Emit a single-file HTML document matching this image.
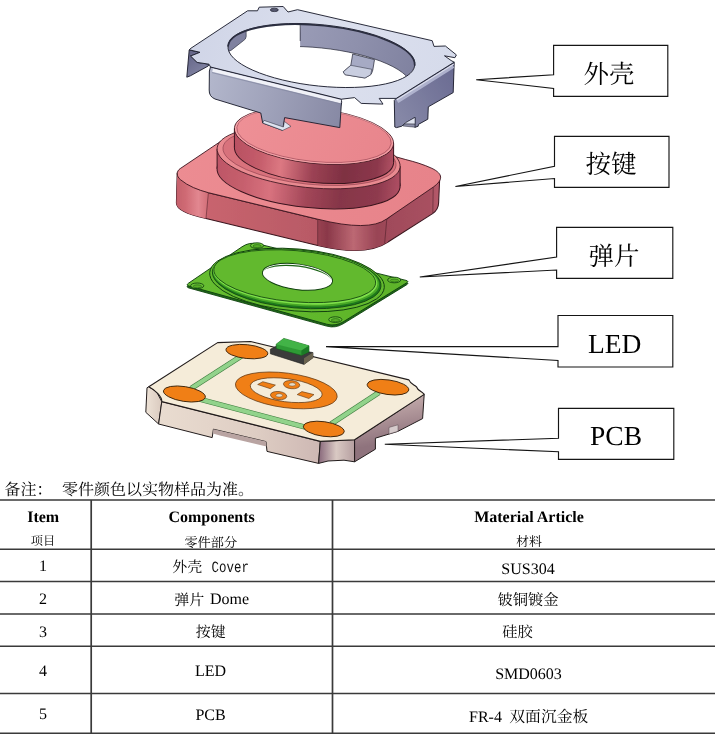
<!DOCTYPE html>
<html lang="zh">
<head>
<meta charset="utf-8">
<title>Exploded view</title>
<style>
html,body{margin:0;padding:0;background:#fff;}
body{width:715px;height:740px;overflow:hidden;font-family:"Liberation Serif",serif;}
svg{display:block;position:absolute;left:0;top:0;}
.ser{font-family:"Liberation Serif",serif;}
.cjk{font-family:"Liberation Serif","Noto Serif CJK SC",serif;}
.mono{font-family:"Liberation Mono",monospace;}
text{text-rendering:geometricPrecision;}
</style>
</head>
<body>
<svg width="715" height="740" viewBox="0 0 715 740">
<defs>

<filter id="soft" x="-5%" y="-5%" width="110%" height="110%"><feGaussianBlur stdDeviation="0.45"/></filter>
<linearGradient id="pcbFront" x1="160" y1="0" x2="322" y2="0" gradientUnits="userSpaceOnUse">
 <stop offset="0" stop-color="#e9dcd0"/><stop offset="0.6" stop-color="#decdc3"/><stop offset="1" stop-color="#cdb7b3"/>
</linearGradient>
<linearGradient id="pcbRight" x1="390" y1="400" x2="398" y2="440" gradientUnits="userSpaceOnUse">
 <stop offset="0" stop-color="#c3abab"/><stop offset="1" stop-color="#8f737d"/>
</linearGradient>
<linearGradient id="pcbCham" x1="320" y1="0" x2="356" y2="0" gradientUnits="userSpaceOnUse">
 <stop offset="0" stop-color="#8e6f80"/><stop offset="0.45" stop-color="#d9c9c3"/><stop offset="1" stop-color="#b39c9e"/>
</linearGradient>
<linearGradient id="pcbLeft" x1="145" y1="0" x2="163" y2="0" gradientUnits="userSpaceOnUse">
 <stop offset="0" stop-color="#efe4d8"/><stop offset="1" stop-color="#d8c8bd"/>
</linearGradient>

<linearGradient id="domeTop" x1="200" y1="250" x2="400" y2="310" gradientUnits="userSpaceOnUse">
 <stop offset="0" stop-color="#66bd30"/><stop offset="0.5" stop-color="#62b92d"/><stop offset="1" stop-color="#5db32a"/>
</linearGradient>

<linearGradient id="btnSide" x1="178" y1="0" x2="440" y2="0" gradientUnits="userSpaceOnUse">
 <stop offset="0" stop-color="#cf6a74"/><stop offset="0.12" stop-color="#c8646e"/><stop offset="0.5" stop-color="#b95a66"/>
 <stop offset="0.8" stop-color="#a04a5a"/><stop offset="0.96" stop-color="#a85060"/><stop offset="1" stop-color="#b85c6c"/>
</linearGradient>
<linearGradient id="btnCorner" x1="317" y1="0" x2="390" y2="0" gradientUnits="userSpaceOnUse">
 <stop offset="0" stop-color="#9a4352"/><stop offset="0.14" stop-color="#8a3849"/><stop offset="0.5" stop-color="#bc6873"/><stop offset="0.82" stop-color="#994455"/><stop offset="1" stop-color="#a04a5a"/>
</linearGradient>
<linearGradient id="btnLeft" x1="176" y1="0" x2="208" y2="0" gradientUnits="userSpaceOnUse">
 <stop offset="0" stop-color="#c4606b"/><stop offset="0.3" stop-color="#cf6a74"/><stop offset="0.7" stop-color="#e28790"/><stop offset="1" stop-color="#d26e78"/>
</linearGradient>
<linearGradient id="btnTop" x1="180" y1="150" x2="420" y2="230" gradientUnits="userSpaceOnUse">
 <stop offset="0" stop-color="#ec8c92"/><stop offset="1" stop-color="#e7838a"/>
</linearGradient>
<linearGradient id="btnTop2" x1="240" y1="110" x2="390" y2="165" gradientUnits="userSpaceOnUse">
 <stop offset="0" stop-color="#ee9096"/><stop offset="1" stop-color="#e8858c"/>
</linearGradient>
<linearGradient id="ringSide" x1="216" y1="0" x2="401" y2="0" gradientUnits="userSpaceOnUse">
 <stop offset="0" stop-color="#bd5666"/><stop offset="0.15" stop-color="#c65f6d"/><stop offset="0.3" stop-color="#d8727e"/>
 <stop offset="0.5" stop-color="#a24658"/><stop offset="0.68" stop-color="#863648"/><stop offset="0.88" stop-color="#8e3a4e"/><stop offset="1" stop-color="#b05064"/>
</linearGradient>
<linearGradient id="cylSide" x1="234" y1="0" x2="394" y2="0" gradientUnits="userSpaceOnUse">
 <stop offset="0" stop-color="#b85062"/><stop offset="0.16" stop-color="#c45c6a"/><stop offset="0.3" stop-color="#dc7882"/>
 <stop offset="0.5" stop-color="#9c4254"/><stop offset="0.7" stop-color="#7e3042"/><stop offset="0.9" stop-color="#8c384c"/><stop offset="1" stop-color="#b25264"/>
</linearGradient>


<clipPath id="cvOpenClip"><path d="M228.1 45.9 A93.8 30.3 5.9 1 0 414.7 65.1 A93.8 30.3 5.9 1 0 228.1 45.9 Z"/></clipPath>
<clipPath id="cvBandClip"><rect x="300" y="0" width="140" height="110"/></clipPath>
<linearGradient id="cvTop" x1="200" y1="20" x2="440" y2="90" gradientUnits="userSpaceOnUse">
 <stop offset="0" stop-color="#d0d5e7"/><stop offset="0.5" stop-color="#dce0ee"/><stop offset="1" stop-color="#d6dbeb"/>
</linearGradient>
<linearGradient id="cvFront" x1="210" y1="80" x2="340" y2="112" gradientUnits="userSpaceOnUse">
 <stop offset="0" stop-color="#b2b6cb"/><stop offset="0.45" stop-color="#a0a3bb"/><stop offset="1" stop-color="#888aa5"/>
</linearGradient>
<linearGradient id="cvRight" x1="396" y1="110" x2="454" y2="75" gradientUnits="userSpaceOnUse">
 <stop offset="0" stop-color="#8587a6"/><stop offset="1" stop-color="#6b6c93"/>
</linearGradient>
<linearGradient id="cvLeft" x1="187" y1="50" x2="205" y2="72" gradientUnits="userSpaceOnUse">
 <stop offset="0" stop-color="#5f6083"/><stop offset="1" stop-color="#8284a3"/>
</linearGradient>
<linearGradient id="cvInner" x1="300" y1="30" x2="416" y2="62" gradientUnits="userSpaceOnUse">
 <stop offset="0" stop-color="#999bb6"/><stop offset="0.5" stop-color="#8e90ac"/><stop offset="1" stop-color="#8082a0"/>
</linearGradient>

<!--DEFS-->
</defs>
<rect x="0" y="0" width="715" height="740" fill="#ffffff"/>

<!-- ================= ILLUSTRATION ================= -->
<g id="illu" filter="url(#soft)">
<g id="pcb" stroke-linejoin="round">
 <!-- left corner wall -->
 <path d="M147 387.8 L148.8 386.8 L156.4 391.5 L161.8 401.6 L158.6 424 L145.8 412.3 Z" fill="url(#pcbLeft)" stroke="#221c1c" stroke-width="1"/>
 <!-- front face with bottom notch -->
 <path d="M161.8 401.6 L320.3 441.4 L318.6 463.4 L267 451.4 L266 441.6 L213.4 429.2 L212.2 437.6 L158.6 424 Z" fill="url(#pcbFront)" stroke="#221c1c" stroke-width="1"/>
 <path d="M213.4 429.2 L266 441.6 L266.5 446.4 L220 435.6 L213 433.4 Z" fill="#b9a4a2" stroke="none"/>
 <!-- corner chamfer -->
 <path d="M320.3 441.4 L354.6 439.7 L354.6 461.8 L344 460.2 L328 461 L318.6 463.4 Z" fill="url(#pcbCham)" stroke="#221c1c" stroke-width="1"/>
 <!-- right face -->
 <path d="M424.2 394.4 L354.6 439.7 L354.6 461.8 L375.4 449.2 L375.4 438.2 L398 431.3 L422.6 418.6 Z" fill="url(#pcbRight)" stroke="#221c1c" stroke-width="1"/>
 <path d="M389 427.4 L398 424.8 L398 431.3 L389 434 Z" fill="#d6cbcc" stroke="#5a4a50" stroke-width="0.5"/>
 <!-- top face -->
 <path d="M217.6 342.6 L250.6 341.5 L408.9 379.9 C410.2 383.6 413.8 384.6 416.6 387 C417.6 390.6 421.8 391.2 424.2 394.4 L354.6 439.7 L320.3 441.4 L161.8 401.6 C162 396.4 155.6 390.4 148.8 386.8 Z" fill="#f5ecd9" stroke="#221c1c" stroke-width="1.1"/>
 <!-- traces -->
 <g stroke="#3f7d3f" stroke-width="5.2" fill="none" stroke-linecap="butt">
  <path d="M241.5 356 L191 388.5"/><path d="M197 398.5 L316 430"/><path d="M379 392.5 L331 424"/>
 </g>
 <g stroke="#92d38b" stroke-width="3.9" fill="none" stroke-linecap="butt">
  <path d="M241.5 356 L191 388.5"/><path d="M197 398.5 L316 430"/><path d="M379 392.5 L331 424"/>
 </g>
 <!-- pads -->
 <g fill="#f07f18" stroke="#3a2208" stroke-width="0.9">
  <ellipse cx="246.9" cy="351.6" rx="21" ry="6.9" transform="rotate(6 246.9 351.6)"/>
  <ellipse cx="184.4" cy="394" rx="21.2" ry="7.4" transform="rotate(9 184.4 394)"/>
  <ellipse cx="388" cy="387.2" rx="21" ry="7.3" transform="rotate(8 388 387.2)"/>
  <ellipse cx="323.8" cy="429" rx="20.6" ry="7.3" transform="rotate(8 323.8 429)"/>
 </g>
 <!-- central ring -->
 <g transform="rotate(7.5 286.3 390.4)">
  <path fill="#f07f18" fill-rule="evenodd" stroke="#5a3410" stroke-width="0.7" d="M235 390.4 a51.3 17.3 0 1 0 102.6 0 a51.3 17.3 0 1 0 -102.6 0 Z M250 390.2 a36.2 11.6 0 1 1 72.4 0 a36.2 11.6 0 1 1 -72.4 0 Z"/>
 </g>
 <g fill="#f07f18" stroke="#5a3410" stroke-width="0.6">
  <path d="M257.7 384.5 L262.8 381.7 L275.4 385.1 L270.3 388.7 Z"/>
  <path d="M297.2 394.6 L301.9 391.6 L314 394.6 L308.9 398.5 Z"/>
  <ellipse cx="291.6" cy="384.6" rx="8.2" ry="4.1" transform="rotate(6 291.6 384.6)"/>
  <ellipse cx="278.6" cy="395.6" rx="8.2" ry="4.1" transform="rotate(6 278.6 395.6)"/>
 </g>
 <g fill="#e9dcc6" stroke="#6a4a2a" stroke-width="0.5">
  <ellipse cx="292.2" cy="384.4" rx="3.3" ry="1.7"/>
  <ellipse cx="279.2" cy="395.4" rx="3.3" ry="1.7"/>
 </g>
</g>
<g id="led" stroke-linejoin="round">
 <path d="M270.4 349.2 L276.6 346 L313 352.6 L313 357.8 L304 364.4 L270.4 353.8 Z" fill="#3b3b3b" stroke="#1c1c1c" stroke-width="0.6"/>
 <path d="M304 358.2 L313 352.6 L313 357.8 L304 364.4 Z" fill="#6b6350"/>
 <path d="M276.2 344.2 L283.8 338.4 L309 345.8 L309 351.8 L301.4 355.4 L276.2 348.6 Z" fill="#2f9a35" stroke="#145a1a" stroke-width="0.6"/>
 <path d="M276.2 344.2 L283.8 338.4 L309 345.8 L301.4 350.6 Z" fill="#42b347"/>
 <path d="M301.4 350.6 L309 345.8 L309 351.8 L301.4 355.4 Z" fill="#1f7a28"/>
</g>
<g id="dome" stroke-linejoin="round">
<path d="M189.0 288.0 Q185.6 287.1 188.5 285.1 L242.0 248.7 Q249.4 243.6 258.1 245.8 L406.0 282.3 Q409.4 283.1 406.4 284.9 L343.1 323.8 Q335.4 328.5 326.7 326.1 Z" fill="#1f6a16" stroke="#10400f" stroke-width="0.9"/>
<path d="M189.0 286.1 Q185.6 285.2 188.5 283.2 L242.0 246.8 Q249.4 241.7 258.1 243.9 L406.0 280.4 Q409.4 281.2 406.4 283.0 L343.1 321.9 Q335.4 326.6 326.7 324.2 Z" fill="url(#domeTop)" stroke="#10400f" stroke-width="0.95"/>
<g fill="#6cc636" stroke="#10400f" stroke-width="0.85">
<ellipse cx="197.2" cy="285.8" rx="6.6" ry="2.8"/>
<ellipse cx="257.0" cy="245.6" rx="6.6" ry="2.8"/>
<ellipse cx="394.2" cy="280.0" rx="6.6" ry="2.8"/>
<ellipse cx="335.3" cy="319.6" rx="6.6" ry="2.8"/>
</g>
<g fill="#58ad28" stroke="#1c5c14" stroke-width="0.6">
<ellipse cx="197.4" cy="286.3" rx="4.2" ry="1.5"/>
<ellipse cx="257.2" cy="246.1" rx="4.2" ry="1.5"/>
<ellipse cx="394.4" cy="280.5" rx="4.2" ry="1.5"/>
<ellipse cx="335.5" cy="320.1" rx="4.2" ry="1.5"/>
</g>
<g transform="rotate(5 297 280)">
<ellipse cx="297" cy="280" rx="87.6" ry="31" fill="#62b92d" stroke="#10400f" stroke-width="0.95"/>
<ellipse cx="296.6" cy="279" rx="84.6" ry="29" fill="#1e7a1c" stroke="#10400f" stroke-width="0.8"/>
<ellipse cx="295.8" cy="278" rx="83.4" ry="27.8" fill="#49a827" stroke="none"/>
<ellipse cx="295" cy="277.2" rx="82.4" ry="26.8" fill="#7ee04a" stroke="none"/>
<ellipse cx="294.4" cy="276.4" rx="81.2" ry="25.6" fill="#62b92d" stroke="#10400f" stroke-width="0.8"/>
</g>
<g transform="rotate(7.5 297.5 276.8)">
<ellipse cx="297.5" cy="276.8" rx="35.4" ry="12.8" fill="#ffffff" stroke="#10400f" stroke-width="0.95"/>
<path d="M262.3 276.8 a35.4 12.8 0 0 1 70.4 0 a35.4 11.2 0 0 0 -70.4 0 Z" fill="#1c6416"/>
</g>
</g>
<g id="button" stroke-linejoin="round">
<path d="M177.2 173 L176.4 203 C176.4 210 190 215 206 218.4 L317.7 245.4 Q366 257 388 242 L432.6 213.6 Q438.4 209.6 438.6 203 L439.8 176 L386.6 219 L317.7 219.2 L208.4 192.7 Z" fill="url(#btnSide)" stroke="#3a141e" stroke-width="1.05"/>
<path d="M317.7 219.2 Q369 232 386.6 219 L388 242 Q366 257 317.7 245.4 Z" fill="url(#btnCorner)" stroke="none"/>
<path d="M177.2 173 L176.4 203 C176.4 210 190 215 206 218.4 L208.4 192.7 C196 190 176 182 177.2 173 Z" fill="url(#btnLeft)" stroke="none"/>
<path d="M208.4 192.7 L206 218.4 M317.7 219.2 V245.4 M386.8 219 L384.6 243.6 M433.2 187.2 L432.8 213.4" stroke="#3a141e" stroke-width="0.6" fill="none" opacity="0.8"/>
<path d="M221.4 140.9 L180.2 168.6 C176.4 171.2 176 176 180.6 179.8 C188 186 198 190 208.4 192.7 L317.7 219.2 Q369 232 386.6 219 L433.4 187 C443 180 443.5 174 432 168.4 C424 164.6 414 161.6 405.8 159.6 L300 130 Z" fill="url(#btnTop)" stroke="#3a141e" stroke-width="0.9"/>
<ellipse cx="308.6" cy="177.5" rx="92.0" ry="30.0" transform="rotate(6.00 308.6 177.5)" fill="url(#ringSide)" stroke="#3a141e" stroke-width="1.0"/>
<path d="M217.1 148.9 L400.1 166.1 L400.1 186.1 L217.1 168.9 Z" fill="url(#ringSide)" stroke="none"/>
<path d="M217.1 148.9 V168.9 M400.1 166.1 V186.1" stroke="#3a141e" stroke-width="1.0" fill="none"/>
<ellipse cx="308.6" cy="157.5" rx="92.0" ry="30.0" transform="rotate(6.00 308.6 157.5)" fill="#e98a90" stroke="#3a141e" stroke-width="0.8"/>
<ellipse cx="309.5" cy="156.6" rx="87.0" ry="27.6" transform="rotate(6.00 309.5 156.6)" fill="#d8727c" stroke="#7a3040" stroke-width="0.5"/>
<ellipse cx="314.0" cy="155.0" rx="80.0" ry="27.4" transform="rotate(6.00 314.0 155.0)" fill="url(#cylSide)" stroke="#3a141e" stroke-width="1.0"/>
<path d="M234.4 128.6 L393.6 143.4 L393.6 162.4 L234.4 147.6 Z" fill="url(#cylSide)" stroke="none"/>
<path d="M234.4 128.6 V147.6 M393.6 143.4 V162.4" stroke="#3a141e" stroke-width="1.0" fill="none"/>
<ellipse cx="314.0" cy="136.0" rx="80.0" ry="27.4" transform="rotate(6.00 314.0 136.0)" fill="url(#btnTop2)" stroke="#3a141e" stroke-width="0.8"/>
<ellipse cx="314.0" cy="135.4" rx="77.6" ry="26.0" transform="rotate(6.00 314.0 135.4)" fill="none" stroke="#7a3040" stroke-width="0.6" opacity="0.75"/>
<ellipse cx="314.0" cy="135.8" rx="78.8" ry="26.7" transform="rotate(6.00 314.0 135.8)" fill="none" stroke="#f6aeb2" stroke-width="0.9" opacity="0.8"/>
</g>
<g id="cover" stroke-linejoin="round">
<path d="M396.2 98.4 L454.2 62.2 L453.2 92.6 L428.3 106.8 L427.8 119.2 L418.4 124.4 L418.2 126.2 L414.8 127.4 L415 117.4 L405.6 122.8 L401.8 126.2 L396.6 127.6 L394.8 127 L394.3 100.4 Z" fill="url(#cvRight)" stroke="#1f2130" stroke-width="0.95"/>
<path d="M405.6 122.8 L415 117.4 L415 124.2 L404.4 124 Z" fill="#dfe3ef" stroke="#1f2130" stroke-width="0.5"/>
<path d="M404.4 124 L415 124.2 L414.8 127.2 L403 126 Z" fill="#8e90aa" stroke="#1f2130" stroke-width="0.5"/>
<path d="M397.4 101.4 L453.4 66.2" stroke="#b9bcd6" stroke-width="3.6" fill="none" opacity="0.85"/>
<path d="M396.8 99.8 L453.8 64" stroke="#e2e5f1" stroke-width="1.3" fill="none" opacity="0.9"/>
<path d="M189.2 50 L186.8 77.2 L190.4 75.8 L208.2 66 L209 64.2 L197.1 62.4 L190.6 56 L200 52.3 Z" fill="url(#cvLeft)" stroke="#1f2130" stroke-width="0.95"/>
<path d="M210.5 67 L341.4 99.2 Q342 102 341.2 106 L339.8 127.6 L284.6 117.6 L282.6 130.4 L262.7 123 L260.8 113 L215 99 Q209 96.6 209.2 90 L209.4 71 Z" fill="url(#cvFront)" stroke="#1f2130" stroke-width="0.95"/>
<path d="M262.7 123 L282.6 130.4 L291 126.4 L284.4 121.5 L283.4 127 L264 120.4 Z" fill="#dfe4f0" stroke="#1f2130" stroke-width="0.5"/>
<path d="M228.1 45.9 A93.8 30.3 5.9 1 0 414.7 65.1 A93.8 30.3 5.9 1 0 228.1 45.9 Z" fill="#ffffff"/>
<g clip-path="url(#cvOpenClip)">
<path d="M304.4 10 H430 V100 H304.4 Q299.8 60 300 34 Q300 20 304.4 10 Z" fill="url(#cvInner)"/>
<path d="M225.1 68.9 A93.8 30.3 5.9 1 0 411.7 88.1 A93.8 30.3 5.9 1 0 225.1 68.9 Z" fill="#ffffff"/>
<g clip-path="url(#cvBandClip)"><path d="M225.1 68.9 A93.8 30.3 5.9 1 0 411.7 88.1 A93.8 30.3 5.9 1 0 225.1 68.9 Z" fill="none" stroke="#1f2130" stroke-width="0.7"/></g>
<path d="M300.2 22 V41" stroke="#1f2130" stroke-width="0.7" fill="none"/>
<path d="M222 22 L246 24 L246.2 36.5 Q246 39.4 243 41 L231.3 50.2 L222 54 Z" fill="#7f819f" stroke="#1f2130" stroke-width="0.6"/>
<path d="M352.7 54 L374.5 59.6 L372.8 70 Q372 73 370.7 74.7 L365 78 L345.1 74.7 L343.2 71.9 L350.8 65.3 Z" fill="#a6aac4" stroke="#1f2130" stroke-width="0.7"/>
<path d="M350.8 65.3 L371.8 69.3 L370.7 74.7 L365 78 L345.1 74.7 L343.2 71.9 Z" fill="#c9cee0" stroke="#1f2130" stroke-width="0.5"/>
</g>
<path fill-rule="evenodd" d="M259.2 7.2 L283.2 6.5 L288 12 L297.5 9.7 L432.2 40.7 L434 46.4 L445.4 46 L456.4 54.9 L454.9 57.7 L444.5 55.8 L451.1 60.5 L454.2 62.2 L396.2 98.4 L379.2 98.4 L383 104.1 L361.2 103.4 L354.6 97.6 L341.4 99.2 L210.5 67 L209 64.2 L197.1 62.4 L190.6 56 L200 52.3 L189.2 49.8 L191 48.2 L247.6 10.8 L257.5 10.8 Z M228.1 45.9 A93.8 30.3 5.9 1 0 414.7 65.1 A93.8 30.3 5.9 1 0 228.1 45.9 Z" fill="url(#cvTop)" stroke="#1f2130" stroke-width="0.95"/>
<ellipse cx="274.3" cy="9.9" rx="4" ry="1.7" fill="#55576e" stroke="#1f2130" stroke-width="0.7"/>
<path d="M228.1 45.9 A93.8 30.3 5.9 0 1 414.7 65.1" fill="none" stroke="#2c2e40" stroke-width="1.7" stroke-linecap="round"/>
<path d="M212.6 70.2 L341 101.6" stroke="#f4f6fb" stroke-width="3.4" fill="none" opacity="0.95"/>
<path d="M212 72.6 L340.6 104" stroke="#7e829c" stroke-width="0.7" fill="none" opacity="0.9"/>
</g>
</g>

<!-- ================= CALLOUTS ================= -->
<g fill="#fff" stroke="#151515" stroke-width="1.15" stroke-linejoin="miter">
<path d="M553.6 45.3H667.8V96.4H553.6V88.4L476.2 79.7L553.6 74.8Z"/>
<path d="M554.5 136.3H669V187.3H554.5V178.5L455.4 186.5L554.5 166.2Z"/>
<path d="M556.6 227.4H672.8V278.4H556.6V270L419.8 277L556.6 257Z"/>
<path d="M558 315.5H672.8V367H558V360.5L326 346.6L558 346.6Z"/>
<path d="M558.5 408.3H673.8V459.3H558.5V451.8L384.8 444.3L558.5 438.2Z"/>
</g>
<g fill="#000">
<text class="cjk" x="583.5" y="83" font-size="25.5">外壳</text>
<text class="cjk" x="585.5" y="173" font-size="25.5">按键</text>
<text class="cjk" x="588.5" y="265" font-size="25.5">弹片</text>
<text class="ser" x="588" y="353" font-size="27.5">LED</text>
<text class="ser" x="590" y="445" font-size="27.5">PCB</text>
</g>

<!-- ================= NOTE ================= -->
<text class="cjk" x="4.5" y="495" font-size="16" fill="#000">备注：</text>
<text class="cjk" x="62" y="495" font-size="16" fill="#000">零件颜色以实物样品为准。</text>

<!-- ================= TABLE ================= -->
<g stroke="#3a3a3a" stroke-width="1.45" fill="none">
<path d="M0 500H715M0 549.3H715M0 581.5H715M0 614H715M0 646.3H715M0 693.5H715M0 733.3H715"/>
<path stroke-width="1.7" d="M91.2 500V733.3M332.5 500V733.3"/>
</g>
<g fill="#000" class="ser" text-anchor="middle">
<text x="43.2" y="522" font-size="16" font-weight="bold">Item</text>
<text x="211.6" y="522" font-size="16" font-weight="bold">Components</text>
<text x="529" y="522" font-size="16" font-weight="bold">Material Article</text>
<text x="43" y="571" font-size="16">1</text>
<text x="43" y="604" font-size="16">2</text>
<text x="43" y="637" font-size="16">3</text>
<text x="43" y="676" font-size="16">4</text>
<text x="43" y="719" font-size="16">5</text>
<text x="229.5" y="604" font-size="16">Dome</text>
<text x="210.5" y="676" font-size="16">LED</text>
<text x="210.5" y="720" font-size="16">PCB</text>
<text x="528" y="574" font-size="16">SUS304</text>
<text x="528.5" y="679" font-size="16">SMD0603</text>
<text x="485.5" y="721.5" font-size="16">FR-4</text>
</g>
<g transform="translate(211.5 571.5) scale(0.89 1.12)"><text class="mono" x="0" y="0" font-size="14" fill="#111">Cover</text></g>
<g fill="#000" class="cjk">
<text x="43" y="545" font-size="12.2" text-anchor="middle">项目</text>
<text x="210.8" y="547" font-size="13.2" text-anchor="middle">零件部分</text>
<text x="529" y="545.5" font-size="13" text-anchor="middle">材料</text>
<text x="172.3" y="572" font-size="15">外壳</text>
<text x="174.3" y="604.5" font-size="15">弹片</text>
<text x="210.8" y="637" font-size="15" text-anchor="middle">按键</text>
<text x="528" y="604.5" font-size="15.3" text-anchor="middle">铍铜镀金</text>
<text x="517.5" y="637" font-size="15.2" text-anchor="middle">硅胶</text>
<text x="509.3" y="722" font-size="15.8">双面沉金板</text>
</g>
</svg>
</body>
</html>
